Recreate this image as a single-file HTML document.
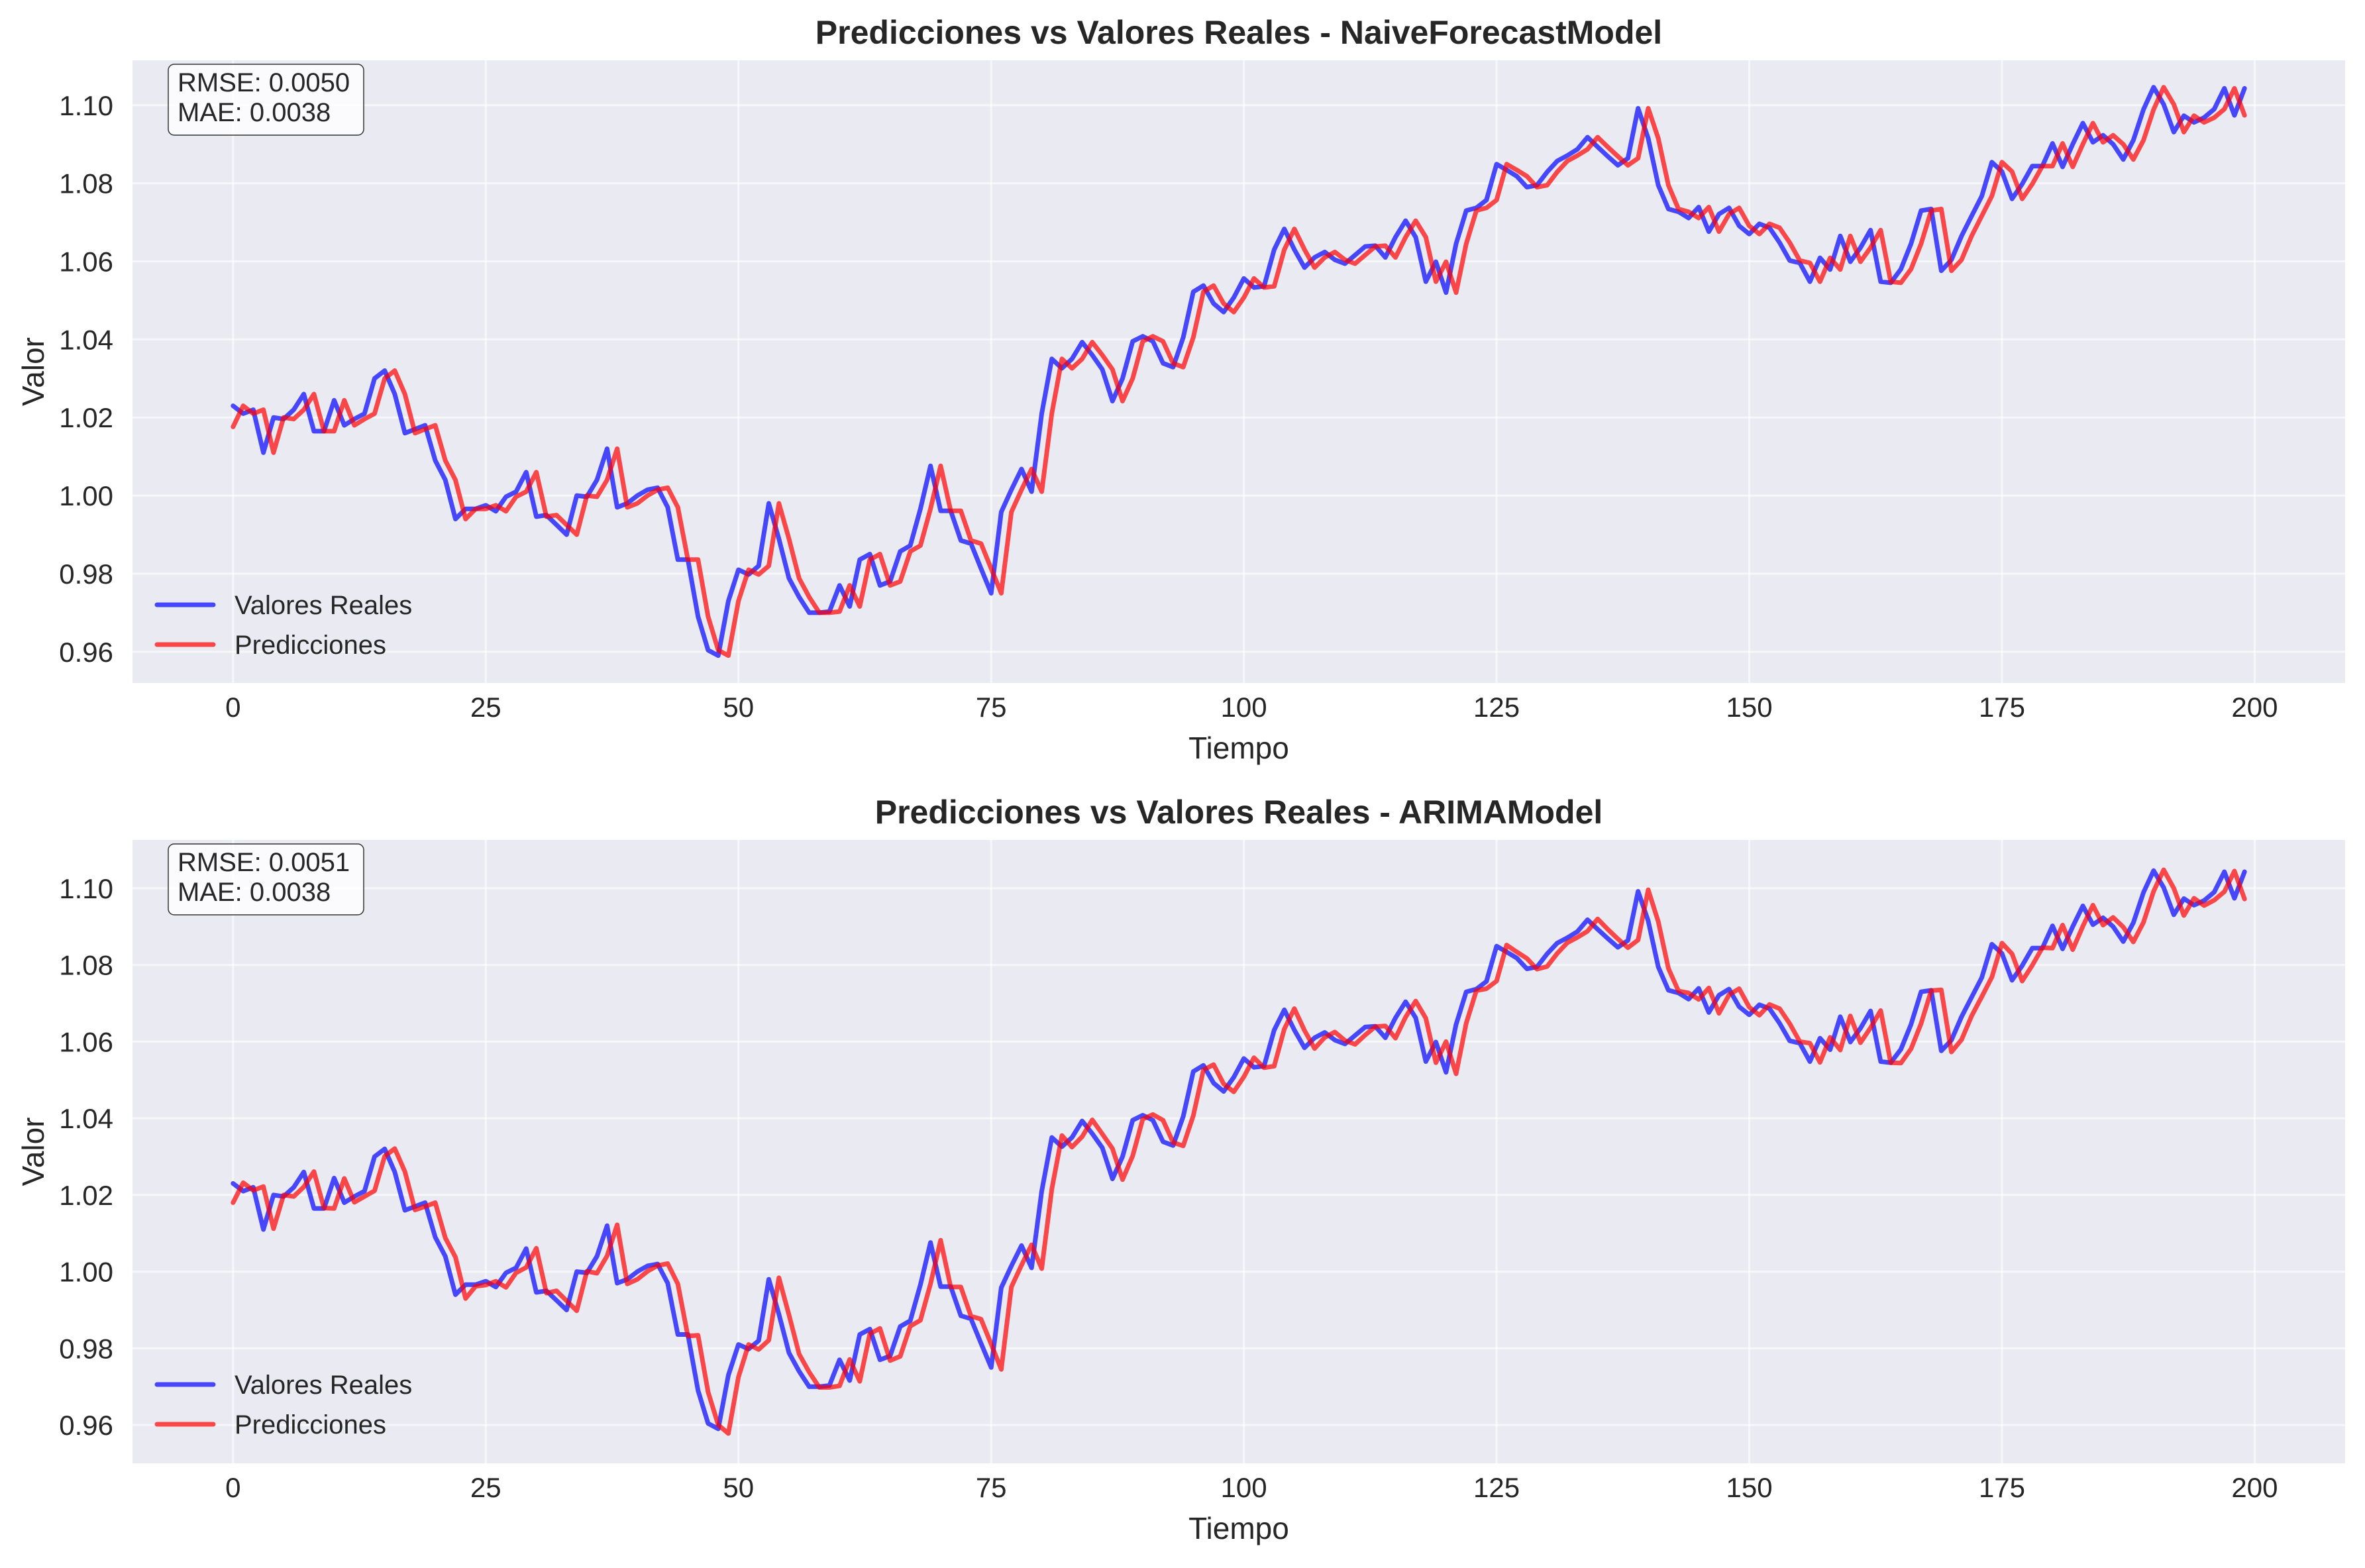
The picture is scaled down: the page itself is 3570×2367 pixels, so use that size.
<!DOCTYPE html>
<html><head><meta charset="utf-8">
<style>
html,body{margin:0;padding:0;background:#fff;}
svg{display:block;font-family:"Liberation Sans",Arial,sans-serif;}
</style></head>
<body>
<svg id="fig" width="3570" height="2367" viewBox="0 0 3570 2367" xmlns="http://www.w3.org/2000/svg"></svg>
<script>
const xTicks = [0, 25, 50, 75, 100, 125, 150, 175, 200];
const yTicks = [0.96, 0.98, 1.00, 1.02, 1.04, 1.06, 1.08, 1.10];
const realValues = [
1.0230,1.0210,1.0220,1.0110,1.0200,1.0196,1.0220,1.0260,1.0165,1.0165,
1.0244,1.0180,1.0196,1.0210,1.0300,1.0320,1.0260,1.0160,1.0170,1.0180,
1.0090,1.0040,0.9940,0.9966,0.9966,0.9975,0.9960,0.9997,1.0010,1.0060,
0.9946,0.9950,0.9925,0.9900,1.0000,0.9997,1.0040,1.0120,0.9970,0.9980,
1.0000,1.0015,1.0020,0.9970,0.9836,0.9836,0.9690,0.9604,0.9590,0.9730,
0.9810,0.9798,0.9820,0.9980,0.9889,0.9788,0.9740,0.9700,0.9700,0.9703,
0.9770,0.9716,0.9836,0.9850,0.9770,0.9780,0.9857,0.9872,0.9966,1.0076,
0.9961,0.9961,0.9885,0.9877,0.9813,0.9750,0.9958,1.0015,1.0068,1.0010,
1.0210,1.0350,1.0326,1.0350,1.0393,1.0360,1.0323,1.0242,1.0300,1.0395,
1.0408,1.0395,1.0339,1.0329,1.0405,1.0522,1.0538,1.0492,1.0470,1.0507,
1.0556,1.0533,1.0536,1.0630,1.0683,1.0630,1.0584,1.0610,1.0624,1.0604,
1.0594,1.0616,1.0638,1.0640,1.0610,1.0662,1.0704,1.0662,1.0548,1.0599,
1.0520,1.0645,1.0730,1.0737,1.0757,1.0849,1.0834,1.0818,1.0790,1.0795,
1.0829,1.0857,1.0871,1.0887,1.0918,1.0893,1.0869,1.0846,1.0864,1.0992,
1.0915,1.0795,1.0734,1.0727,1.0711,1.0739,1.0676,1.0721,1.0737,1.0691,
1.0670,1.0696,1.0686,1.0648,1.0602,1.0596,1.0548,1.0609,1.0579,1.0665,
1.0599,1.0635,1.0680,1.0548,1.0545,1.0580,1.0645,1.0730,1.0734,1.0576,
1.0604,1.0665,1.0716,1.0767,1.0854,1.0830,1.0760,1.0798,1.0844,1.0844,
1.0902,1.0842,1.0900,1.0954,1.0905,1.0923,1.0900,1.0861,1.0910,1.0989,
1.1046,1.1002,1.0931,1.0973,1.0956,1.0968,1.0990,1.1043,1.0974,1.1043];
const naivePred = [
1.0176,1.0230,1.0210,1.0220,1.0110,1.0200,1.0196,1.0220,1.0260,1.0165,
1.0165,1.0244,1.0180,1.0196,1.0210,1.0300,1.0320,1.0260,1.0160,1.0170,
1.0180,1.0090,1.0040,0.9940,0.9966,0.9966,0.9975,0.9960,0.9997,1.0010,
1.0060,0.9946,0.9950,0.9925,0.9900,1.0000,0.9997,1.0040,1.0120,0.9970,
0.9980,1.0000,1.0015,1.0020,0.9970,0.9836,0.9836,0.9690,0.9604,0.9590,
0.9730,0.9810,0.9798,0.9820,0.9980,0.9889,0.9788,0.9740,0.9700,0.9700,
0.9703,0.9770,0.9716,0.9836,0.9850,0.9770,0.9780,0.9857,0.9872,0.9966,
1.0076,0.9961,0.9961,0.9885,0.9877,0.9813,0.9750,0.9958,1.0015,1.0068,
1.0010,1.0210,1.0350,1.0326,1.0350,1.0393,1.0360,1.0323,1.0242,1.0300,
1.0395,1.0408,1.0395,1.0339,1.0329,1.0405,1.0522,1.0538,1.0492,1.0470,
1.0507,1.0556,1.0533,1.0536,1.0630,1.0683,1.0630,1.0584,1.0610,1.0624,
1.0604,1.0594,1.0616,1.0638,1.0640,1.0610,1.0662,1.0704,1.0662,1.0548,
1.0599,1.0520,1.0645,1.0730,1.0737,1.0757,1.0849,1.0834,1.0818,1.0790,
1.0795,1.0829,1.0857,1.0871,1.0887,1.0918,1.0893,1.0869,1.0846,1.0864,
1.0992,1.0915,1.0795,1.0734,1.0727,1.0711,1.0739,1.0676,1.0721,1.0737,
1.0691,1.0670,1.0696,1.0686,1.0648,1.0602,1.0596,1.0548,1.0609,1.0579,
1.0665,1.0599,1.0635,1.0680,1.0548,1.0545,1.0580,1.0645,1.0730,1.0734,
1.0576,1.0604,1.0665,1.0716,1.0767,1.0854,1.0830,1.0760,1.0798,1.0844,
1.0844,1.0902,1.0842,1.0900,1.0954,1.0905,1.0923,1.0900,1.0861,1.0910,
1.0989,1.1046,1.1002,1.0931,1.0973,1.0956,1.0968,1.0990,1.1043,1.0974];
const arimaPred = [
1.0180,1.0232,1.0212,1.0222,1.0112,1.0200,1.0196,1.0221,1.0261,1.0166,
1.0165,1.0243,1.0181,1.0196,1.0211,1.0301,1.0321,1.0261,1.0161,1.0170,
1.0180,1.0088,1.0038,0.9930,0.9962,0.9965,0.9975,0.9959,0.9997,1.0011,
1.0061,0.9944,0.9950,0.9924,0.9898,1.0001,0.9996,1.0041,1.0122,0.9968,
0.9980,1.0001,1.0016,1.0021,0.9968,0.9832,0.9834,0.9686,0.9600,0.9578,
0.9725,0.9810,0.9797,0.9821,0.9984,0.9887,0.9785,0.9738,0.9698,0.9698,
0.9702,0.9771,0.9714,0.9838,0.9852,0.9768,0.9779,0.9858,0.9873,0.9968,
1.0082,0.9960,0.9960,0.9884,0.9876,0.9811,0.9745,0.9960,1.0017,1.0070,
1.0008,1.0215,1.0355,1.0325,1.0352,1.0396,1.0359,1.0321,1.0240,1.0302,
1.0398,1.0410,1.0395,1.0337,1.0328,1.0407,1.0526,1.0540,1.0490,1.0469,
1.0508,1.0558,1.0532,1.0536,1.0633,1.0686,1.0629,1.0582,1.0611,1.0625,
1.0603,1.0593,1.0617,1.0639,1.0641,1.0609,1.0664,1.0706,1.0661,1.0545,
1.0600,1.0516,1.0648,1.0733,1.0738,1.0758,1.0852,1.0834,1.0817,1.0789,
1.0796,1.0830,1.0858,1.0872,1.0888,1.0920,1.0893,1.0868,1.0845,1.0865,
1.0996,1.0913,1.0791,1.0732,1.0727,1.0710,1.0740,1.0674,1.0722,1.0738,
1.0690,1.0669,1.0697,1.0686,1.0647,1.0600,1.0596,1.0546,1.0611,1.0578,
1.0667,1.0597,1.0636,1.0681,1.0545,1.0544,1.0581,1.0647,1.0733,1.0735,
1.0573,1.0605,1.0667,1.0717,1.0768,1.0857,1.0829,1.0758,1.0799,1.0845,
1.0844,1.0904,1.0840,1.0901,1.0956,1.0904,1.0924,1.0899,1.0860,1.0911,
1.0992,1.1048,1.1000,1.0929,1.0974,1.0955,1.0969,1.0991,1.1045,1.0972];

const NS = "http://www.w3.org/2000/svg";
const svg = document.getElementById("fig");
function mk(tag, attrs, parent) {
  const e = document.createElementNS(NS, tag);
  for (const k in attrs) e.setAttribute(k, attrs[k]);
  (parent || svg).appendChild(e);
  return e;
}
const TXT = "#262626";

function drawPanel(cfg) {
  const g = mk("g", {});
  
  
  const L = 200, R = 3540, T = cfg.top, B = cfg.bottom;
  const xMin = -9.95, xMax = 208.95;
  const sx = v => L + (v - xMin) / (xMax - xMin) * (R - L);
  const sy = v => T + (cfg.yMax - v) / (cfg.yMax - cfg.yMin) * (B - T);

  const bg = mk("rect", {x: L, y: T, width: R - L, height: B - T, fill: "#eaeaf2"}, g);
  
  

  xTicks.forEach(t => {
    const x = sx(t);
    const gl = mk("line", {x1: x, x2: x, y1: T, y2: B, stroke: "#ffffff", "stroke-width": 3, "stroke-opacity": 0.6}, g);
    
    
    const tl = mk("text", {x: x, y: B + 51, "font-size": 42, fill: TXT, "text-anchor": "middle"}, g);
    tl.textContent = String(t);
    
    
  });
  yTicks.forEach(t => {
    const y = sy(t);
    const gl = mk("line", {x1: L, x2: R, y1: y, y2: y, stroke: "#ffffff", "stroke-width": 3, "stroke-opacity": 0.6}, g);
    
    
    const tl = mk("text", {x: 171, y: y + 15, "font-size": 42, fill: TXT, "text-anchor": "end"}, g);
    tl.textContent = t.toFixed(2);
    
    
  });

  const path = arr => arr.map((v, i) => (i ? "L" : "M") + sx(i).toFixed(1) + " " + sy(v).toFixed(1)).join(" ");
  const real = mk("path", {d: path(cfg.real), fill: "none", stroke: "#0000ff", "stroke-opacity": 0.7, "stroke-width": 7, "stroke-linejoin": "round", "stroke-linecap": "round"}, g);
  
  
  const pred = mk("path", {d: path(cfg.pred), fill: "none", stroke: "#ff0000", "stroke-opacity": 0.7, "stroke-width": 7, "stroke-linejoin": "round", "stroke-linecap": "round"}, g);
  
  

  const title = mk("text", {x: 1870, y: T - 25, "font-size": 50, "font-weight": "bold", fill: TXT, "text-anchor": "middle"}, g);
  title.textContent = cfg.title;
  
  

  const xl = mk("text", {x: 1870, y: B + 114, "font-size": 46, fill: TXT, "text-anchor": "middle"}, g);
  xl.textContent = "Tiempo";
  
  
  const ymid = (T + B) / 2;
  const yl = mk("text", {x: 66, y: ymid, "font-size": 46, fill: TXT, "text-anchor": "middle", transform: "rotate(-90 66 " + ymid + ")"}, g);
  yl.textContent = "Valor";
  
  

  const box = mk("g", {}, g);
  
  
  mk("rect", {x: 254, y: T + 6, width: 295, height: 107, rx: 9, fill: "#ffffff", "fill-opacity": 0.8, stroke: "#333", "stroke-width": 1.5}, box);
  const m1 = mk("text", {x: 268, y: T + 47, "font-size": 40, fill: TXT}, box);
  m1.textContent = cfg.rmse;
  
  
  const m2 = mk("text", {x: 268, y: T + 92, "font-size": 40, fill: TXT}, box);
  m2.textContent = cfg.mae;
  
  

  const lg = mk("g", {}, g);
  
  
  const e1 = mk("g", {}, lg);
  
  
  mk("line", {x1: 237, x2: 322, y1: T + 822, y2: T + 822, stroke: "#0000ff", "stroke-opacity": 0.7, "stroke-width": 7, "stroke-linecap": "round"}, e1);
  const lt1 = mk("text", {x: 354, y: T + 836, "font-size": 40, fill: TXT}, e1);
  lt1.textContent = "Valores Reales";
  const e2 = mk("g", {}, lg);
  
  
  mk("line", {x1: 237, x2: 322, y1: T + 882, y2: T + 882, stroke: "#ff0000", "stroke-opacity": 0.7, "stroke-width": 7, "stroke-linecap": "round"}, e2);
  const lt2 = mk("text", {x: 354, y: T + 896, "font-size": 40, fill: TXT}, e2);
  lt2.textContent = "Predicciones";
}

drawPanel({name: "naive-panel", top: 91, bottom: 1031, yMin: 0.952, yMax: 1.1115,
  real: realValues, pred: naivePred,
  title: "Predicciones vs Valores Reales - NaiveForecastModel",
  rmse: "RMSE: 0.0050", mae: "MAE: 0.0038"});
drawPanel({name: "arima-panel", top: 1268, bottom: 2209, yMin: 0.950, yMax: 1.1126,
  real: realValues, pred: arimaPred,
  title: "Predicciones vs Valores Reales - ARIMAModel",
  rmse: "RMSE: 0.0051", mae: "MAE: 0.0038"});
</script>
</body></html>
